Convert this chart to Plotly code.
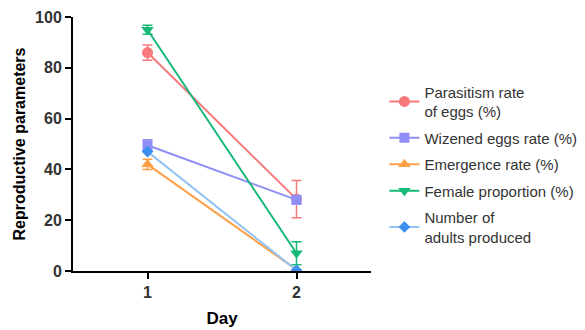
import plotly.graph_objects as go

days = [1, 2]
series_names = ["Parasitism rate<br>of eggs (%)", "Wizened eggs rate (%)", "Emergence rate (%)",
                "Female proportion (%)", "Number of<br>adults produced"]
parasitism = [86, 28.3]
parasitism_err = [3, 7.3]
wizened = [49.5, 28]
wizened_err = [2.2, 1.5]
emergence = [42, 0.5]
emergence_err = [2, 0]
female = [95, 7]
female_err = [1.8, 4.5]
adults = [47, 0.3]
adults_err = [0, 0]

colors = ["#F7797B", "#8E8EF6", "#FFA048", "#17B978", "#90C2F4"]
marker_colors = ["#F7797B", "#8E8EF6", "#FFA048", "#17B978", "#3D8FEF"]
symbols = ["circle", "square", "triangle-up", "triangle-down", "diamond"]
vals = [parasitism, wizened, emergence, female, adults]
errs = [parasitism_err, wizened_err, emergence_err, female_err, adults_err]
sizes = [11, 10, 11, 11, 9]

fig = go.Figure()
for i, (name, v, e, c, mc, s, sz) in enumerate(zip(series_names, vals, errs, colors, marker_colors, symbols, sizes)):
    fig.add_trace(go.Scatter(
        x=days, y=v, name=name, mode="lines+markers", legendgroup=f"g{i}",
        line=dict(color=c, width=2),
        marker=dict(symbol=s, size=sz, color=mc),
        error_y=dict(type="data", array=e, visible=True, color=c, thickness=1.5, width=5),
    ))

# page body has an 8px default margin, so margins are offset to compensate
fig.update_layout(
    width=577, height=322,
    margin=dict(l=65, r=214, t=9, b=59, autoexpand=False),
    plot_bgcolor="white", paper_bgcolor="white",
    font=dict(family="Liberation Sans, Arial, sans-serif", color="#333333"),
    legend=dict(x=1.045, y=0.77, xanchor="left", yanchor="top",
                font=dict(size=15, color="#333333"), itemwidth=30,
                traceorder="grouped", tracegroupgap=4),
    showlegend=True,
)
fig.update_xaxes(
    range=[0.5, 2.5], tickvals=days, ticktext=["<b>1</b>", "<b>2</b>"],
    showline=True, linecolor="black", linewidth=2, automargin=False,
    ticks="outside", ticklen=6, tickwidth=2, tickcolor="black",
    showgrid=False, zeroline=False,
    tickfont=dict(size=16, color="#333333"),
    title=dict(text="<b>Day</b>", font=dict(size=17, color="black"), standoff=12),
)
fig.update_yaxes(
    range=[0, 100], tickvals=[0, 20, 40, 60, 80, 100],
    ticktext=["<b>0</b>", "<b>20</b>", "<b>40</b>", "<b>60</b>", "<b>80</b>", "<b>100</b>"],
    showline=True, linecolor="black", linewidth=2, automargin=False,
    ticks="outside", ticklen=6, tickwidth=2, tickcolor="black",
    showgrid=False, zeroline=False,
    tickfont=dict(size=16, color="#333333"),
    title=dict(text="<b>Reproductive parameters</b>", font=dict(size=16, color="black"), standoff=5),
)
fig.write_html("out.html")
